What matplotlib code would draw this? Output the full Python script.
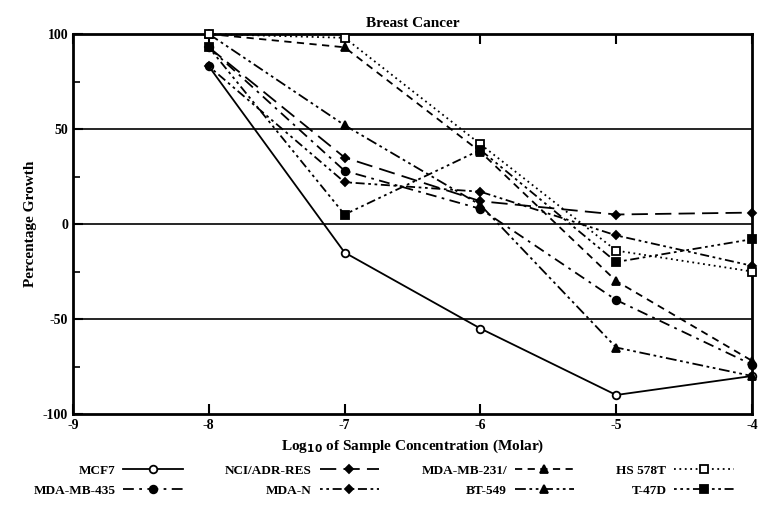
import matplotlib
matplotlib.use('Agg')
import matplotlib.pyplot as plt

plt.rcParams['font.family'] = ['Liberation Serif', 'DejaVu Serif']
plt.rcParams['font.weight'] = 'bold'
plt.rcParams['axes.unicode_minus'] = False

# log10 molar concentrations
conc = [-8, -7, -6, -5, -4]

mcf7 = [83, -15, -55, -90, -80]
nci_adr = [93, 35, 12, 5, 6]
mda_mb_231 = [100, 93, 38, -30, -72]
hs578t = [100, 98, 42, -14, -25]
mda_mb_435 = [93, 28, 8, -40, -74]
mda_n = [83, 22, 17, -6, -22]
bt549 = [100, 52, 10, -65, -80]
t47d = [93, 5, 39, -20, -8]

# name, values, marker, filled, dash pattern
series = [
    ('MCF7', mcf7, 'o', False, None),
    ('MDA-MB-435', mda_mb_435, 'o', True, (6, 3, 1.5, 3)),
    ('NCI/ADR-RES', nci_adr, 'D', True, (9, 4)),
    ('MDA-N', mda_n, 'D', True, (1.5, 2, 1.5, 2, 5, 2)),
    ('MDA-MB-231/', mda_mb_231, '^', True, (4, 3)),
    ('BT-549', bt549, '^', True, (6, 2, 1.5, 2, 1.5, 2)),
    ('HS 578T', hs578t, 's', False, (1, 2)),
    ('T-47D', t47d, 's', True, (1.5, 2, 1.5, 2, 1.5, 2, 5, 2)),
]

fig = plt.figure(figsize=(7.67, 5.15), dpi=100)
ax = fig.add_axes([73 / 767, 1 - 414 / 515, (752 - 73) / 767, (414 - 34) / 515])

for yv in [50, 0, -50]:
    ax.axhline(yv, color='black', lw=1.2, zorder=1)

handles = []
for name, vals, mk, filled, dash in series:
    ms = 4.5 if mk == 'D' else 5.5
    line, = ax.plot(conc, vals, color='black', lw=1.3, marker=mk, markersize=ms,
                    markerfacecolor='black' if filled else 'white',
                    markeredgecolor='black', markeredgewidth=1.3,
                    label=name, clip_on=False, zorder=3)
    if dash is not None:
        line.set_dashes(dash)
    handles.append(line)

ax.set_xlim(-9, -4)
ax.set_ylim(-100, 100)
ax.set_xticks([-9, -8, -7, -6, -5, -4])
ax.set_xticklabels(['-9', '-8', '-7', '-6', '-5', '-4'])
ax.set_yticks([-100, -50, 0, 50, 100])
ax.set_yticks([-75, -25, 25, 75], minor=True)
ax.tick_params(axis='both', direction='in', length=7, width=1.5, labelsize=10)
ax.tick_params(axis='x', top=True)
ax.tick_params(axis='y', which='minor', direction='in', length=5, width=1.2)
for s in ax.spines.values():
    s.set_linewidth(2)

ax.set_title('Breast Cancer', fontsize=11, fontweight='bold', pad=5)
ax.set_ylabel('Percentage Growth', fontsize=11, fontweight='bold')
ax.set_xlabel('Log$_{10}$ of Sample Concentration (Molar)', fontsize=11,
              fontweight='bold', labelpad=4)

fig.legend(handles=handles, labels=[h.get_label() for h in handles],
           loc='lower center', bbox_to_anchor=(0.5, 0.015), ncol=4,
           markerfirst=False, frameon=False, fontsize=9.5,
           handlelength=4.5, columnspacing=3.2, handletextpad=0.6,
           labelspacing=0.6, borderaxespad=0.4)

fig.savefig('out.png', dpi=100)
